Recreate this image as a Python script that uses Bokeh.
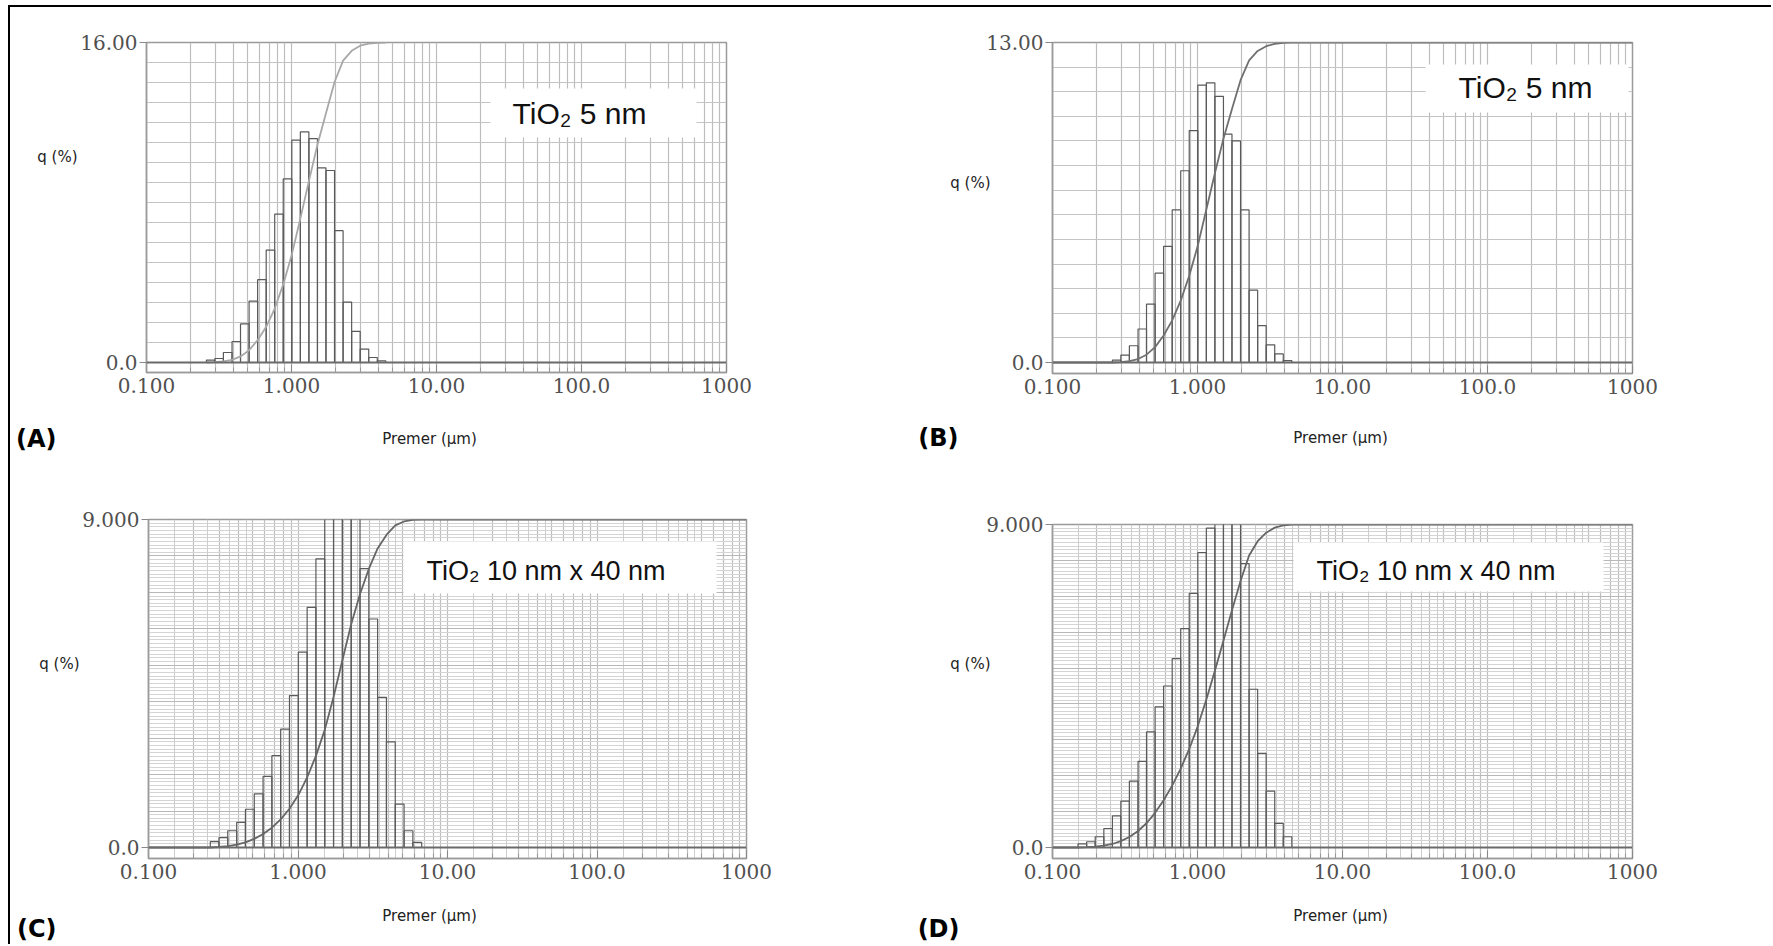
import numpy as np
from bokeh.plotting import figure
from bokeh.models import (FixedTicker, CustomJSTickFormatter, Span, Label,
                          BoxAnnotation, Grid, Range1d, Div, Spacer, LinearAxis)
from bokeh.layouts import column, row
from bokeh.core.properties import value
from bokeh.embed import file_html
from bokeh.resources import INLINE

# ---------------- data ----------------
# size-channel edges of the analyser (um)
channel_edges = [0.150, 0.172, 0.197, 0.226, 0.259, 0.296, 0.339, 0.389, 0.445,
                 0.510, 0.584, 0.669, 0.766, 0.877, 1.005, 1.151, 1.318, 1.510,
                 1.729, 1.981, 2.269, 2.599, 2.976, 3.409, 3.905, 4.472, 5.122,
                 5.867, 6.720]

x_ticks = [0.1, 1, 10, 100, 1000]
x_tick_labels = ["0.100", "1.000", "10.00", "100.0", "1000"]

# (A) TiO2 5 nm
a_first = 0.259
a_q = [0.12, 0.20, 0.50, 1.05, 1.93, 3.07, 4.14, 5.62, 7.42, 9.18, 11.12,
       11.53, 11.19, 9.73, 9.60, 6.59, 3.02, 1.56, 0.67, 0.25, 0.08]
a_ymax = 16
a_ylabels = ["0.0", "16.00"]

# (B) TiO2 5 nm
b_first = 0.259
b_q = [0.10, 0.30, 0.68, 1.36, 2.37, 3.63, 4.72, 6.20, 7.79, 9.42, 11.27,
       11.36, 10.81, 9.28, 9.00, 6.20, 2.94, 1.50, 0.72, 0.35, 0.08]
b_ymax = 13
b_ylabels = ["0.0", "13.00"]

# (C) TiO2 10 nm x 40 nm
c_first = 0.259
c_q = [0.16, 0.27, 0.46, 0.69, 1.05, 1.47, 1.95, 2.52, 3.25, 4.17, 5.36,
       6.59, 7.92, 10.0, 11.2, 11.0, 9.2, 7.65, 6.27, 4.12, 2.90, 1.19, 0.46, 0.14]
c_ymax = 9
c_ylabels = ["0.0", "9.000"]

# (D) TiO2 10 nm x 40 nm
d_first = 0.150
d_q = [0.10, 0.16, 0.30, 0.53, 0.88, 1.29, 1.85, 2.40, 3.22, 3.92, 4.50,
       5.26, 6.10, 7.08, 8.22, 8.90, 9.30, 9.40, 9.10, 7.91, 4.41, 2.62, 1.57,
       0.67, 0.30]
d_ymax = 9
d_ylabels = ["0.0", "9.000"]

x_label = "Premer (µm)"
y_label = "q (%)"

# ---------------- drawing ----------------
SERIF = "DejaVu Serif"
SANS = "DejaVu Sans"


def make_panel(q, first, ymax, ylabels, W, H, frame, gap, dense, curve_full,
               curve_color, q_y, q_standoff, box, note, note_xy, note_size):
    fl, ft, fr, fb = frame
    fh = fb - ft
    ppu = (fh - gap) / ymax
    ymin = -gap / ppu
    p = figure(width=W, height=H, x_axis_type="log",
               x_range=Range1d(0.1, 1000), y_range=Range1d(ymin, ymax),
               output_backend="svg", toolbar_location=None,
               min_border_left=fl, min_border_right=W - fr,
               min_border_top=ft, min_border_bottom=H - fb)
    p.background_fill_color = "white"
    p.border_fill_color = "white"
    p.outline_line_color = "#9a9a9a"
    p.outline_line_width = 1.5

    # grids
    grid_x = []
    for d in [0.1, 1, 10, 100]:
        grid_x += [d * k for k in range(1, 10)]
    grid_x.append(1000)
    minor_x = [v for v in grid_x if v not in x_ticks]
    p.xgrid.ticker = FixedTicker(ticks=grid_x)
    p.xgrid.grid_line_color = "#bdbdbd"
    p.xgrid.grid_line_width = 1.2
    if dense:
        half_x = []
        for d in [0.1, 1, 10, 100]:
            half_x += [d * k for k in (1.5, 2.5, 3.5, 4.5)]
        p.add_layout(Grid(dimension=0, ticker=FixedTicker(ticks=half_x),
                          grid_line_color="#cdcdcd", grid_line_width=1))
        p.ygrid.ticker = FixedTicker(ticks=list(np.round(np.arange(0, ymax + 1e-9, 0.1), 3)))
        p.ygrid.grid_line_color = "#d4d4d4"
        p.ygrid.grid_line_width = 1
        p.add_layout(Grid(dimension=1, ticker=FixedTicker(ticks=list(range(0, ymax + 1))),
                          grid_line_color="#b8b8b8", grid_line_width=1))
    else:
        p.ygrid.ticker = FixedTicker(ticks=list(range(0, ymax + 1)))
        p.ygrid.grid_line_color = "#c4c4c4"
        p.ygrid.grid_line_width = 1.2

    # axes
    xa = p.xaxis[0]
    xa.ticker = FixedTicker(ticks=x_ticks, minor_ticks=minor_x)
    xa.formatter = CustomJSTickFormatter(args=dict(tv=x_ticks, tl=x_tick_labels), code="""
        for (let i = 0; i < tv.length; i++) {
          if (Math.abs(Math.log10(tick) - Math.log10(tv[i])) < 1e-6) return tl[i];
        }
        return "";""")
    xa.axis_line_color = "#9a9a9a"
    xa.axis_line_width = 1.5
    xa.major_tick_out = 0
    xa.major_tick_in = 8
    xa.minor_tick_out = 0
    xa.minor_tick_in = 5
    xa.major_tick_line_color = "#888888"
    xa.minor_tick_line_color = "#999999"
    xa.major_label_standoff = 5
    xa.major_label_text_font = SERIF
    xa.major_label_text_font_size = "20px"
    xa.major_label_text_color = "#505050"

    ya = p.yaxis[0]
    ya.ticker = FixedTicker(ticks=[0, ymax], minor_ticks=[])
    ya.formatter = CustomJSTickFormatter(args=dict(tv=[0, ymax], tl=ylabels), code="""
        for (let i = 0; i < tv.length; i++) {
          if (Math.abs(tick - tv[i]) < 1e-6) return tl[i];
        }
        return "";""")
    ya.axis_line_color = "#9a9a9a"
    ya.axis_line_width = 1.5
    ya.major_tick_out = 7
    ya.major_tick_in = 0
    ya.minor_tick_out = 0
    ya.minor_tick_in = 0
    ya.major_tick_line_color = "#888888"
    ya.major_label_standoff = 2
    ya.major_label_text_font = SERIF
    ya.major_label_text_font_size = "20px"
    ya.major_label_text_color = "#505050"

    # y title "q (%)" carried by an outer, line-less axis
    yq = (fb - gap - q_y) / ppu
    qa = LinearAxis(ticker=FixedTicker(ticks=[yq], minor_ticks=[]),
                    formatter=CustomJSTickFormatter(args=dict(lab=y_label), code="return lab;"),
                    axis_line_color=None, major_tick_line_color=None,
                    minor_tick_line_color=None, major_tick_out=0, major_tick_in=0,
                    major_label_standoff=q_standoff,
                    major_label_text_font=SANS, major_label_text_font_size="15px",
                    major_label_text_color="#222222")
    p.add_layout(qa, "left")

    # baseline
    p.add_layout(Span(location=0, dimension="width", line_color="#6a6a6a",
                      line_width=2))

    # histogram bars
    i0 = channel_edges.index(first)
    edges = channel_edges[i0:i0 + len(q) + 1]
    p.quad(left=edges[:-1], right=edges[1:], bottom=0, top=q,
           fill_alpha=0, line_color="#5a5a5a", line_width=1.2)

    # cumulative curve (cumulative sum of the bars, 100 % = top of axis)
    cum = np.concatenate([[0.0], np.cumsum(q)]) / float(np.sum(q)) * ymax
    cx = list(edges)
    cy = list(cum)
    if curve_full:
        cx = [0.1] + cx + [1000]
        cy = [0.0] + cy + [ymax]
    p.line(cx, cy, line_color=curve_color, line_width=1.8)

    def fx(X):
        return X - fl

    def fy(Y):
        return fb - Y

    # annotation box
    bl, bt, br, bb = box
    p.add_layout(BoxAnnotation(left=fx(bl), right=fx(br), top=fy(bt), bottom=fy(bb),
                               left_units="screen", right_units="screen",
                               top_units="screen", bottom_units="screen",
                               fill_color="white", fill_alpha=1, line_color=None))
    p.add_layout(Label(x=fx(note_xy[0]), y=fy(note_xy[1]), x_units="screen",
                       y_units="screen", text=note, text_font="Liberation Sans",
                       text_font_size=note_size, text_color="#111111",
                       text_align="left", text_baseline="middle"))
    return p


def make_strip(W, h, frame_lr, letter, letter_y, letter_standoff, xlab_xy):
    fl, fr = frame_lr
    s = figure(width=W, height=h, x_range=Range1d(fl, fr), y_range=Range1d(h, 0),
               min_border_left=fl, min_border_right=W - fr,
               min_border_top=0, min_border_bottom=0,
               toolbar_location=None, output_backend="svg",
               x_axis_location=None, y_axis_location="left")
    s.outline_line_color = None
    s.xgrid.visible = False
    s.ygrid.visible = False
    s.background_fill_color = "white"
    s.border_fill_color = "white"
    ax = s.yaxis[0]
    ax.ticker = FixedTicker(ticks=[letter_y], minor_ticks=[])
    ax.formatter = CustomJSTickFormatter(args=dict(lab=letter), code="return lab;")
    ax.axis_line_color = None
    ax.major_tick_line_color = None
    ax.minor_tick_line_color = None
    ax.major_tick_out = 0
    ax.major_tick_in = 0
    ax.major_label_standoff = letter_standoff
    ax.major_label_text_font = SANS
    ax.major_label_text_font_style = "bold"
    ax.major_label_text_font_size = "24px"
    ax.major_label_text_color = "#000000"
    s.text(x=[xlab_xy[0]], y=[xlab_xy[1]], text=[x_label],
           text_font=value(SANS), text_font_size="15px", text_color="#222222",
           text_align="center", text_baseline="middle")
    return s


pA = make_panel(a_q, a_first, a_ymax, a_ylabels, 878, 410, (136, 32, 716, 362), 10,
                False, False, "#a8a8a8", 146, 0,
                (480, 78, 686, 127), "TiO₂ 5 nm", (502, 103), "30px")
sA = make_strip(878, 56, (136, 716), "(A)", 18, 90, (419, 18))

pB = make_panel(b_q, b_first, b_ymax, b_ylabels, 877, 410, (164, 32, 744, 363), 11,
                False, True, "#707070", 172, -7,
                (537, 54, 740, 102), "TiO₂ 5 nm", (570, 77), "30px")
sB = make_strip(877, 56, (164, 744), "(B)", 17, 94, (452, 17))

pC = make_panel(c_q, c_first, c_ymax, c_ylabels, 878, 418, (138, 43, 736, 382), 11,
                True, True, "#666666", 187, 0,
                (393, 65, 706, 117), "TiO₂ 10 nm x 40 nm", (416, 94), "27px")
sC = make_strip(878, 50, (138, 736), "(C)", 34, 92, (419, 21))

pD = make_panel(d_q, d_first, d_ymax, d_ylabels, 877, 418, (164, 48, 744, 382), 11,
                True, True, "#666666", 187, -7,
                (405, 66, 715, 115), "TiO₂ 10 nm x 40 nm", (428, 94), "27px")
sD = make_strip(877, 50, (164, 744), "(D)", 34, 93, (452, 21))

top_line = Div(text="", width=1763, height=2, margin=0,
               styles={"background-color": "black"})
left_line = Div(text="", width=2, height=937, margin=0,
                styles={"background-color": "black"})
panels = column(row(column(pA, sA), column(pB, sB)),
                row(column(pC, sC), column(pD, sD)))
layout = column(Spacer(width=1771, height=5),
                row(Spacer(width=8, height=939),
                    column(top_line,
                           row(left_line,
                               column(Spacer(width=1755, height=3), panels)))))

open("out.html", "w").write(file_html(layout, INLINE))
